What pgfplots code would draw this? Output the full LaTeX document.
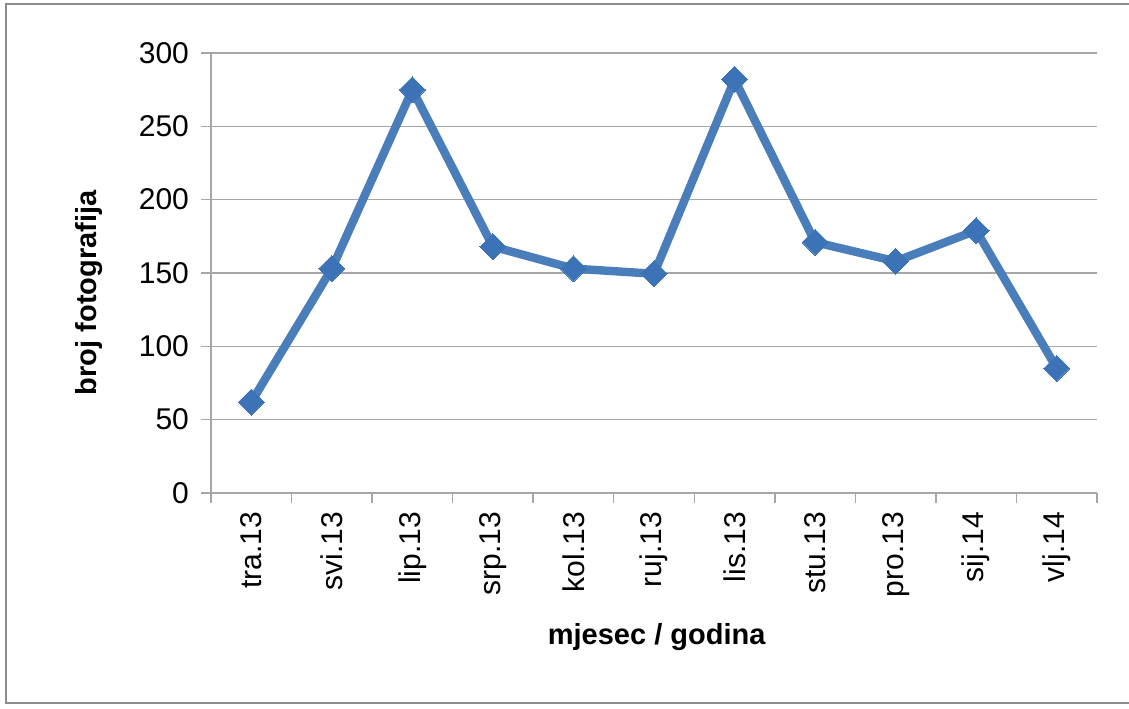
\documentclass[border=0pt]{standalone}
\usepackage{pgfplots}
\pgfplotsset{compat=1.18}
\usepackage{fontspec}
\setmainfont{Liberation Sans}
\definecolor{lineblue}{HTML}{4A7EBB}
\definecolor{markblue}{HTML}{3C72B6}
\definecolor{gridgray}{HTML}{A6A6A6}
\definecolor{framegray}{HTML}{8C8C8C}
\begin{document}
\begin{tikzpicture}[x=0.5pt,y=0.5pt]
\useasboundingbox (0,0) rectangle (1129,708);
\draw[framegray,line width=1.2pt] (6,5) rectangle (1135,704);
\begin{axis}[
  at={(211*0.5pt,215*0.5pt)}, anchor=south west,
  scale only axis, width=443pt, height=220pt,
  xmin=-0.5, xmax=10.5, ymin=0, ymax=300,
  xtick={0,...,10},
  xticklabels={tra.13,svi.13,lip.13,srp.13,kol.13,ruj.13,lis.13,stu.13,pro.13,sij.14,vlj.14},
  xticklabel style={rotate=90, anchor=east, font=\fontsize{15}{17}\selectfont, xshift=-1pt},
  xtick pos=bottom, major x tick style={draw=none},
  minor xtick={-0.5,0.5,...,10.5},
  minor x tick style={gridgray, line width=0.7pt},
  minor tick length=5pt,
  ytick={0,50,...,300},
  yticklabel style={font=\fontsize{15}{17}\selectfont, xshift=-2.5pt},
  /pgf/number format/assume math mode=true,
  ytick pos=left, major y tick style={gridgray, line width=0.7pt},
  major tick length=5pt,
  tick align=outside,
  ymajorgrids, grid style={gridgray, line width=0.7pt},
  axis line style={gridgray, line width=0.7pt},
  axis x line*=bottom, axis y line*=left,
  xlabel={\bfseries mjesec / godina},
  xlabel style={font=\fontsize{14.5}{16}\selectfont, at={(axis description cs:0.503,-0.327)}, anchor=center},
  ylabel={\bfseries broj fotografija},
  ylabel style={font=\fontsize{14.5}{16}\selectfont, at={(axis description cs:-0.138,0.455)}, anchor=center, rotate=0},
  clip=false,
]
\addplot[lineblue, line width=4.2pt, mark=square*, mark size=4.6pt,
  mark options={rotate=45, fill=markblue, draw=markblue, line width=0pt}]
  coordinates {(0,62) (1,153) (2,275) (3,168) (4,153) (5,149.5) (6,282) (7,171) (8,158) (9,179) (10,85)};
\end{axis}
\end{tikzpicture}
\end{document}
